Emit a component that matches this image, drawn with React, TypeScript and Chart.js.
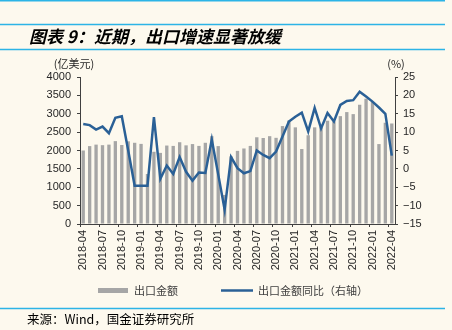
import React, { useEffect, useRef } from 'react';
import { Chart, registerables } from 'chart.js';

Chart.register(...registerables);

const categories = [
  '2018-04', '2018-05', '2018-06', '2018-07', '2018-08', '2018-09', '2018-10', '2018-11', '2018-12',
  '2019-01', '2019-02', '2019-03', '2019-04', '2019-05', '2019-06', '2019-07', '2019-08', '2019-09',
  '2019-10', '2019-11', '2019-12', '2020-01', '2020-02', '2020-03', '2020-04', '2020-05', '2020-06',
  '2020-07', '2020-08', '2020-09', '2020-10', '2020-11', '2020-12', '2021-01', '2021-02', '2021-03',
  '2021-04', '2021-05', '2021-06', '2021-07', '2021-08', '2021-09', '2021-10', '2021-11', '2021-12',
  '2022-01', '2022-02', '2022-03', '2022-04',
];

// 出口金额（亿美元）
const exportValues = [
  2000, 2120, 2160, 2145, 2160, 2255, 2150, 2250, 2210,
  2180, 1360, 1965, 1935, 2135, 2125, 2225, 2140, 2175,
  2125, 2210, 2390, 2120, 790, 1840, 1990, 2055, 2125,
  2360, 2340, 2390, 2345, 2665, 2815, 2630, 2040, 2415,
  2630, 2635, 2810, 2790, 2935, 3045, 2990, 3245, 3410,
  3320, 2175, 2755, 2735,
];

// 出口金额同比（%）
const exportYoY = [
  12.2, 11.9, 10.7, 11.5, 9.7, 13.9, 14.3, 5.0, -4.6,
  -4.6, -4.6, 14.1, -2.7, 0.9, -1.4, 3.2, -0.8, -3.2,
  -1.0, -1.1, 8.0, -1.5, -11.1, 3.2, 0.2, -1.2, -0.6,
  5.0, 3.8, 2.9, 4.7, 8.8, 12.9, 14.2, 15.3, 10.2,
  16.6, 11.0, 15.2, 12.9, 17.4, 18.5, 18.7, 21.0, 19.7,
  18.3, 16.7, 15.0, 3.6,
];

const leftAxisTicks = [0, 500, 1000, 1500, 2000, 2500, 3000, 3500, 4000];
const rightAxisTicks = [-15, -10, -5, 0, 5, 10, 15, 20, 25];

const TITLE = '图表 9：近期，出口增速显著放缓';
const SOURCE = '来源：Wind，国金证券研究所';
const LEFT_UNIT = '(亿美元)';
const RIGHT_UNIT = '(%)';
const BAR_LABEL = '出口金额';
const LINE_LABEL = '出口金额同比（右轴）';

const BG = '#fdf9ee';
const CYAN = '#2cb4e6';
const BAR_COLOR = '#a6a6a6';
const LINE_COLOR = '#2a6096';
const AXIS_COLOR = '#404040';
const TEXT_COLOR = '#262626';
const LATIN = '"Liberation Sans", Arial, sans-serif';
const CJK = '"Noto Sans CJK SC", sans-serif';

const decorPlugin = {
  id: 'decor',
  beforeDraw(chart: any) {
    const { ctx, width, height } = chart;
    ctx.save();
    ctx.fillStyle = BG;
    ctx.fillRect(0, 0, width, height);
    ctx.restore();
  },
  afterDraw(chart: any) {
    const { ctx, chartArea } = chart;
    ctx.save();
    // rules
    ctx.strokeStyle = CYAN;
    ctx.lineWidth = 1.5;
    [0.75, 24.5, 49.5, 308.5].forEach((y) => {
      ctx.beginPath();
      ctx.moveTo(0, y);
      ctx.lineTo(445, y);
      ctx.stroke();
    });
    // title
    ctx.fillStyle = '#000';
    ctx.font = `italic bold 17px ${CJK}`;
    ctx.textAlign = 'left';
    ctx.textBaseline = 'middle';
    ctx.fillText(TITLE, 29, 36.5);
    // units
    ctx.fillStyle = TEXT_COLOR;
    ctx.font = `11px ${CJK}`;
    ctx.textAlign = 'center';
    ctx.fillText(LEFT_UNIT, chartArea.left - 6, 64);
    ctx.fillText(RIGHT_UNIT, chartArea.right + 1, 64);
    // legend
    const ds = chart.data.datasets;
    const ly = 290.5;
    ctx.fillStyle = ds[0].backgroundColor;
    ctx.fillRect(98, ly - 2.5, 30, 5);
    ctx.strokeStyle = ds[1].borderColor;
    ctx.lineWidth = 2.5;
    ctx.beginPath();
    ctx.moveTo(221, ly);
    ctx.lineTo(253, ly);
    ctx.stroke();
    ctx.fillStyle = '#404040';
    ctx.font = `11px ${CJK}`;
    ctx.textAlign = 'left';
    ctx.fillText(ds[0].label, 134, ly);
    ctx.fillText(ds[1].label, 258, ly);
    // source
    ctx.fillStyle = '#000';
    ctx.font = `12.5px ${CJK}`;
    ctx.fillText(SOURCE, 27, 319.5);
    ctx.restore();
  },
};

export default function App() {
  const ref = useRef<HTMLCanvasElement | null>(null);

  useEffect(() => {
    document.body.style.margin = '0';
    document.body.style.background = BG;
    const canvas = ref.current;
    if (!canvas) return;
    const chart = new Chart(canvas, {
      type: 'bar',
      data: {
        labels: categories,
        datasets: [
          {
            type: 'bar',
            label: BAR_LABEL,
            data: exportValues,
            backgroundColor: BAR_COLOR,
            borderWidth: 0,
            barPercentage: 0.52,
            categoryPercentage: 1,
            yAxisID: 'y',
            order: 2,
          },
          {
            type: 'line',
            label: LINE_LABEL,
            data: exportYoY,
            borderColor: LINE_COLOR,
            backgroundColor: LINE_COLOR,
            borderWidth: 2.5,
            pointRadius: 0,
            tension: 0,
            yAxisID: 'y1',
            order: 1,
          },
        ],
      } as any,
      plugins: [decorPlugin],
      options: {
        responsive: false,
        animation: false,
        devicePixelRatio: 1,
        layout: { padding: { left: 40, right: 22, top: 77, bottom: 56 } },
        plugins: {
          legend: { display: false },
          tooltip: { enabled: false },
          title: { display: false },
        },
        scales: {
          x: {
            offset: true,
            grid: {
              display: true,
              drawOnChartArea: false,
              offset: true,
              tickLength: 3,
              lineWidth: 1,
              color: (c: any) => (c.index % 3 === 0 ? AXIS_COLOR : 'rgba(0,0,0,0)'),
            },
            border: { display: true, color: AXIS_COLOR, width: 1 },
            ticks: {
              autoSkip: false,
              maxRotation: 90,
              minRotation: 90,
              padding: 3,
              color: TEXT_COLOR,
              font: { family: LATIN, size: 11 },
              callback: (_v: any, i: number) => (i % 3 === 0 ? categories[i] : ''),
            },
            afterFit: (s: any) => {
              s.height = 50;
            },
          },
          y: {
            position: 'left',
            min: leftAxisTicks[0],
            max: leftAxisTicks[leftAxisTicks.length - 1],
            grid: { drawOnChartArea: false, tickLength: 3, color: AXIS_COLOR },
            border: { display: true, color: AXIS_COLOR, width: 1 },
            ticks: {
              stepSize: leftAxisTicks[1] - leftAxisTicks[0],
              padding: 6,
              color: TEXT_COLOR,
              font: { family: LATIN, size: 11 },
              callback: (v: any) => String(v),
            },
            afterFit: (s: any) => {
              s.width = 40;
            },
          },
          y1: {
            position: 'right',
            min: rightAxisTicks[0],
            max: rightAxisTicks[rightAxisTicks.length - 1],
            grid: { drawOnChartArea: false, tickLength: 3, color: AXIS_COLOR },
            border: { display: true, color: AXIS_COLOR, width: 1 },
            ticks: {
              stepSize: rightAxisTicks[1] - rightAxisTicks[0],
              padding: 5,
              color: TEXT_COLOR,
              font: { family: LATIN, size: 11 },
              callback: (v: any) => (Number(v) < 0 ? '\u2212' + Math.abs(Number(v)) : String(v)),
            },
            afterFit: (s: any) => {
              s.width = 35;
            },
          },
        },
      } as any,
    });
    return () => chart.destroy();
  }, []);

  return (
    <canvas ref={ref} width={452} height={330} style={{ display: 'block', width: 452, height: 330 }} />
  );
}
